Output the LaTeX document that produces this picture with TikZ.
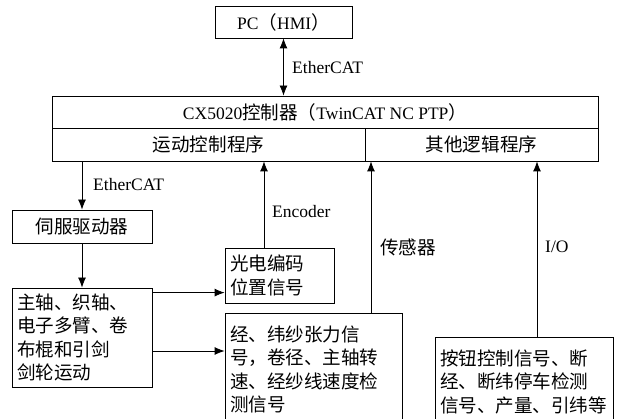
\documentclass[tikz,border=0pt]{standalone}
\usepackage{fontspec}
\setmainfont{Liberation Serif}
\newfontfamily\zh{Noto Sans CJK SC}[Scale=1.06]
\usetikzlibrary{arrows.meta}

\begin{document}
\begin{tikzpicture}[x=1pt,y=-1pt,
	box/.style={draw,line width=0.8pt,inner sep=0pt,font=\fontsize{17.5}{23.5}\selectfont},
	txtbox/.style={box,align=left,inner xsep=5pt,text width=#1},
	arr/.style={line width=0.8pt,-{Latex[length=10pt,width=8pt]}},
	lbl/.style={anchor=west,inner sep=0pt,font=\fontsize{17.5}{21}\selectfont}]
	\useasboundingbox (0,0) rectangle (622,419);
	%
	\node[box,minimum width=137pt,minimum height=32pt] (pc) at (283.5,22) {PC{\zh （}HMI{\zh ）}};
	\node[box,minimum width=546pt,minimum height=32pt] (ctrl) at (325,112) {CX5020{\zh 控制器（}TwinCAT NC PTP{\zh ）}};
	\node[box,minimum width=313pt,minimum height=33pt] (motion) at (208.5,144.5) {\zh 运动控制程序};
	\node[box,minimum width=233pt,minimum height=33pt] (logic) at (481.5,144.5) {\zh 其他逻辑程序};
	\node[box,minimum width=140pt,minimum height=33pt] (servo) at (82,226.5) {\zh 伺服驱动器};
	\node[txtbox=130pt,minimum height=99pt] (axis) at (82,337.5) {\zh 主轴、织轴、\\ 电子多臂、卷\\ 布棍和引剑\\ 剑轮运动};
	\node[txtbox=99pt,minimum height=55pt] (enc) at (279.5,275.5) {\zh 光电编码\\ 位置信号};
	\node[txtbox=167pt,minimum height=113pt] (sens) at (313.5,369.5) {\zh 经、纬纱张力信\\ 号，卷径、主轴转\\ 速、经纱线速度检\\ 测信号};
	\node[txtbox=168pt,minimum height=89pt] (io) at (524,381.5) {\zh 按钮控制信号、断\\ 经、断纬停车检测\\ 信号、产量、引纬等};
	%
	\coordinate (a1) at ([yshift=-5pt]axis.north east);
	\coordinate (a2) at ([yshift=-13.5pt]axis.east);
	\coordinate (e1) at ([xshift=-15.5pt]enc.north);
	\coordinate (s1) at ([xshift=57.5pt]sens.north);
	\coordinate (i1) at ([xshift=13pt]io.north);
	%
	\draw[line width=0.8pt,{Latex[length=10pt,width=8pt]}-{Latex[length=10pt,width=8pt]}] (pc.south) -- (pc.south |- ctrl.north);
	\draw[arr] (servo.north |- motion.south) -- (servo.north);
	\draw[arr] (servo) -- (axis);
	\draw[arr] (a1) -- (a1 -| enc.west);
	\draw[arr] (a2) -- (a2 -| sens.west);
	\draw[arr] (e1) -- (e1 |- motion.south);
	\draw[arr] (s1) -- (s1 |- logic.south);
	\draw[arr] (i1) -- (i1 |- logic.south);
	%
	\node[lbl] (l1) at (292,68) {EtherCAT};
	\node[lbl] (l2) at (93,185) {EtherCAT};
	\node[lbl] (l3) at (272,212) {Encoder};
	\node[lbl] (l4) at (380,247) {\zh 传感器};
	\node[lbl] (l5) at (545,247) {I/O};
\end{tikzpicture}
\end{document}
